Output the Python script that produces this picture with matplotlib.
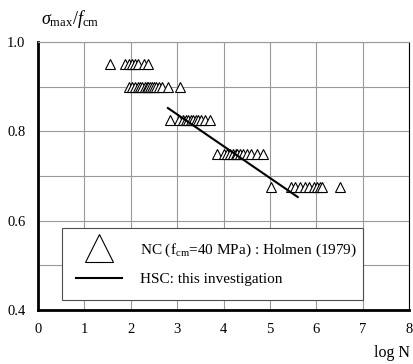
import matplotlib
matplotlib.use("Agg")
import matplotlib.pyplot as plt

plt.rcParams['font.family'] = ['Liberation Serif', 'DejaVu Serif']
plt.rcParams['mathtext.fontset'] = 'custom'
plt.rcParams['mathtext.rm'] = 'Liberation Serif'
plt.rcParams['mathtext.it'] = 'Liberation Serif:italic'

# NC data (Holmen 1979): log N for each stress level
logn_095 = [1.55, 1.87, 1.95, 2.02, 2.08, 2.15, 2.28, 2.36]
logn_090 = [1.95, 2.03, 2.1, 2.15, 2.2, 2.25, 2.3, 2.35, 2.38, 2.42, 2.46,
            2.5, 2.55, 2.6, 2.68, 2.8, 3.06]
logn_0825 = [2.84, 3.04, 3.12, 3.18, 3.24, 3.3, 3.35, 3.4, 3.45, 3.52, 3.6, 3.7]
logn_075 = [3.86, 4.02, 4.08, 4.14, 4.2, 4.26, 4.3, 4.36, 4.42, 4.5, 4.6,
            4.72, 4.85]
logn_0675 = [5.03, 5.45, 5.55, 5.65, 5.75, 5.85, 5.95, 6.02, 6.08, 6.12, 6.52]
levels = [0.95, 0.90, 0.825, 0.75, 0.675]

# HSC regression line
hsc_logn = [2.8, 5.6]
hsc_stress = [0.852, 0.653]

fig = plt.figure(figsize=(4.14, 3.64), dpi=100)
ax = fig.add_axes([0.092, 0.148, 0.896, 0.737])

rows = [logn_095, logn_090, logn_0825, logn_075, logn_0675]
for i, (xs, lev) in enumerate(zip(rows, levels)):
    ax.plot(xs, [lev] * len(xs), linestyle='none', marker='^', ms=7.5,
            mfc='white', mec='black', mew=0.8,
            label='NC (f$_{\\rm cm}$=40 MPa) : Holmen (1979)' if i == 0 else None)
ax.plot(hsc_logn, hsc_stress, color='black', lw=1.5, label='HSC: this investigation')

ax.set_xlim(0, 8)
ax.set_ylim(0.4, 1.0)
ax.set_xticks(range(0, 9))
ax.set_yticks([0.4, 0.5, 0.6, 0.7, 0.8, 0.9, 1.0])
ax.set_yticklabels(['0.4', '', '0.6', '', '0.8', '', '1.0'])
ax.tick_params(length=0, labelsize=10.5, pad=9)
ax.grid(True, color='0.6', lw=0.8)
ax.set_axisbelow(True)
for s in ['left', 'bottom']:
    ax.spines[s].set_linewidth(2)
ax.spines['top'].set_color('0.6')
ax.spines['top'].set_linewidth(0.8)
ax.spines['right'].set_linewidth(0.8)

leg = ax.legend(loc='lower left', bbox_to_anchor=(0.065, 0.037, 0.811, 0.269),
                mode='expand', borderaxespad=0, fancybox=False, edgecolor='0.3',
                fontsize=11, markerscale=2.6, handlelength=3.0, handletextpad=1.2,
                borderpad=0.9, labelspacing=0.9, framealpha=1)
leg.get_frame().set_linewidth(0.8)

fig.text(0.1, 0.935, r'$\sigma_{\rm max}/f_{\rm cm}$', fontsize=13)
fig.text(0.99, 0.02, 'log N', fontsize=11.5, ha='right')

fig.savefig('out.png', dpi=100)
